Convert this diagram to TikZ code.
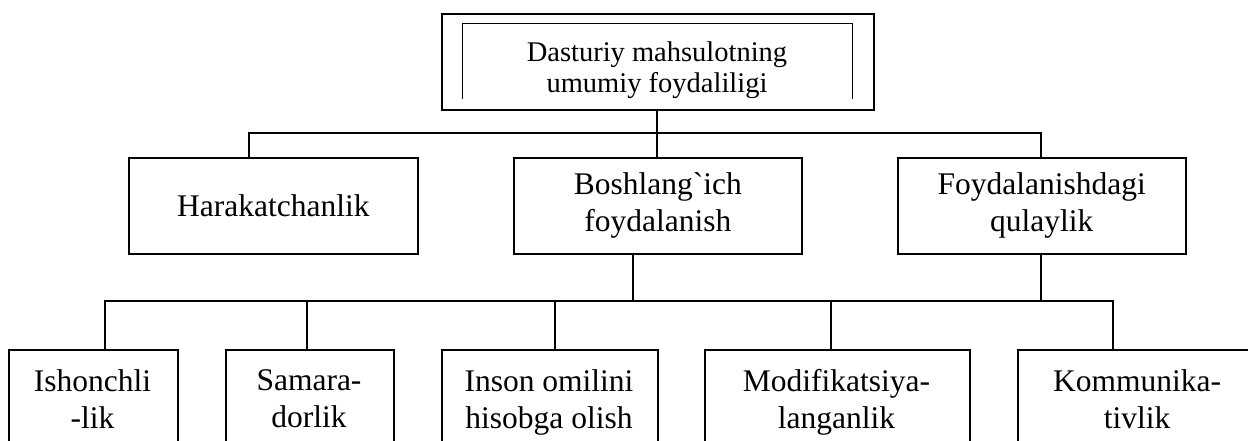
\documentclass[tikz,border=0pt]{standalone}
\usepackage{fontspec}
\setmainfont{Liberation Serif}[Ligatures=TeXOff]
\begin{document}
\begin{tikzpicture}[x=1pt,y=-1pt,
  frame/.style={draw, line width=1.6pt, inner sep=0pt, anchor=north west},
  label/.style={inner sep=0pt, align=center, font=\fontsize{31.5}{37}\selectfont},
  leaf/.style={label, anchor=north},
  link/.style={line width=1.6pt}]
\useasboundingbox (0,0) rectangle (1248,441);
\clip (0,0) rectangle (1248,441);

% root box with its inner open frame
\node[frame, minimum width=432pt, minimum height=96pt] (root) at (441,13) {};
\draw[line width=1pt] (462,99) -- (462,24) -- (852,24) -- (852,99);
\node[label, font=\fontsize{28.5}{31}\selectfont] (roottext) at (657,70)
  {Dasturiy mahsulotning\\umumiy foydaliligi};

% second level
\node[frame, minimum width=289pt, minimum height=96pt] (hara) at (128,157) {};
\node[frame, minimum width=288pt, minimum height=96pt] (bosh) at (513,157) {};
\node[frame, minimum width=288pt, minimum height=96pt] (foyd) at (897,157) {};
\node[label] at (hara.center) {Harakatchanlik};
\node[label] at (bosh.center) {Boshlang\textasciigrave ich\\foydalanish};
\node[label] at (foyd.center) {Foydalanishdagi\\qulaylik};

% third level (boxes run past the lower edge)
\node[frame, minimum width=169pt, minimum height=140pt] (ish) at (8,349) {};
\node[frame, minimum width=168pt, minimum height=140pt] (sam) at (225,349) {};
\node[frame, minimum width=216pt, minimum height=140pt] (ins) at (441,349) {};
\node[frame, minimum width=265pt, minimum height=140pt] (mod) at (704,349) {};
\node[frame, minimum width=240pt, minimum height=140pt] (kom) at (1017,349) {};
\node[leaf] at (92.5,369) {Ishonchli\\-lik};
\node[leaf] at (309,369) {Samara-\\dorlik};
\node[leaf] at (549,369) {Inson omilini\\hisobga olish};
\node[leaf] at (836.5,369) {Modifikatsiya-\\langanlik};
\node[leaf] at (1137,369) {Kommunika-\\tivlik};

% upper bus
\coordinate (ua) at (249,133);
\coordinate (um) at (657,133);
\coordinate (ub) at (1041,133);
\draw[link] (um |- root.south) -- (um |- bosh.north);
\draw[link] (ua |- hara.north) -- (ua) -- (ub) -- (ub |- foyd.north);

% lower bus
\coordinate (l1) at (105,301);
\coordinate (l2) at (307,301);
\coordinate (l3) at (555,301);
\coordinate (l4) at (831,301);
\coordinate (l5) at (1113,301);
\coordinate (lb) at (633,301);
\coordinate (lf) at (1041,301);
\draw[link] (lb |- bosh.south) -- (lb);
\draw[link] (lf |- foyd.south) -- (lf);
\draw[link] (l1 |- ish.north) -- (l1) -- (l5) -- (l5 |- kom.north);
\draw[link] (l2) -- (l2 |- sam.north);
\draw[link] (l3) -- (l3 |- ins.north);
\draw[link] (l4) -- (l4 |- mod.north);
\end{tikzpicture}
\end{document}
